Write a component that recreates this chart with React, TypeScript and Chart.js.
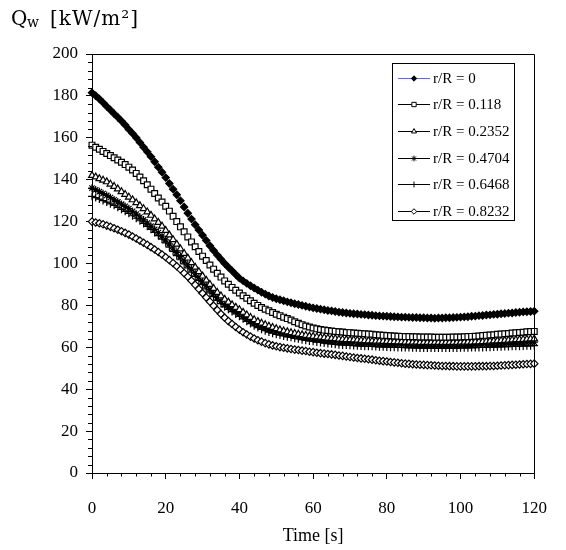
import { useEffect, useRef } from 'react';
import { Chart, registerables } from 'chart.js';
import { drawPoint } from 'chart.js/helpers';

Chart.register(...registerables);

// time axis [s], one sample per second
const times = [
  0, 1, 2, 3, 4, 5, 6, 7, 8, 9,
  10, 11, 12, 13, 14, 15, 16, 17, 18, 19,
  20, 21, 22, 23, 24, 25, 26, 27, 28, 29,
  30, 31, 32, 33, 34, 35, 36, 37, 38, 39,
  40, 41, 42, 43, 44, 45, 46, 47, 48, 49,
  50, 51, 52, 53, 54, 55, 56, 57, 58, 59,
  60, 61, 62, 63, 64, 65, 66, 67, 68, 69,
  70, 71, 72, 73, 74, 75, 76, 77, 78, 79,
  80, 81, 82, 83, 84, 85, 86, 87, 88, 89,
  90, 91, 92, 93, 94, 95, 96, 97, 98, 99,
  100, 101, 102, 103, 104, 105, 106, 107, 108, 109,
  110, 111, 112, 113, 114, 115, 116, 117, 118, 119,
  120,
];

const seriesLabels = ['r/R = 0', 'r/R = 0.118', 'r/R = 0.2352', 'r/R = 0.4704', 'r/R = 0.6468', 'r/R = 0.8232'];

// wall heat flux Qw [kW/m²]
const q0 = [
  181.5, 180.1, 178.5, 176.8, 175, 173.3, 171.5, 169.8, 168, 166.1,
  164, 162.1, 160, 157.8, 155.5, 153.3, 151, 148.6, 146, 143.6,
  141, 138.2, 135.5, 132.8, 130, 127, 124, 121.2, 118.5, 116,
  113.5, 111, 108.5, 106.2, 104, 102, 100, 98.2, 96.5, 94.7,
  93, 91.7, 90.5, 89.4, 88.3, 87.3, 86.3, 85.4, 84.5, 83.8,
  83.2, 82.7, 82.2, 81.7, 81.3, 80.8, 80.4, 80, 79.6, 79.2,
  78.8, 78.5, 78.2, 77.9, 77.6, 77.4, 77.1, 76.8, 76.6, 76.4,
  76.2, 76, 75.9, 75.7, 75.6, 75.4, 75.3, 75.1, 75, 74.9,
  74.8, 74.7, 74.6, 74.5, 74.4, 74.4, 74.3, 74.2, 74.2, 74.1,
  74.1, 74, 74, 73.9, 74, 74, 74.1, 74.1, 74.2, 74.3,
  74.4, 74.5, 74.6, 74.8, 74.9, 75.1, 75.2, 75.4, 75.5, 75.7,
  75.8, 76, 76.1, 76.3, 76.4, 76.6, 76.7, 76.9, 77, 77.1,
  77.2,
];
const q118 = [
  156.5, 155.5, 154.5, 153.5, 152.5, 151.5, 150.5, 149.4, 148.3, 147.2,
  146, 144.6, 143, 141.3, 139.5, 137.6, 135.5, 133.4, 131.3, 129.3,
  127.3, 125, 122.5, 120, 117.5, 115.1, 112.7, 110.3, 108, 105.7,
  103.5, 101.4, 99.3, 97.3, 95.3, 93.5, 91.7, 90.1, 88.6, 87.2,
  85.9, 84.6, 83.4, 82.2, 81, 80, 79, 78.2, 77.4, 76.6,
  75.8, 75.1, 74.4, 73.7, 73, 72.2, 71.5, 70.8, 70.2, 69.7,
  69.2, 68.8, 68.5, 68.2, 68, 67.8, 67.6, 67.4, 67.3, 67.1,
  67, 66.8, 66.7, 66.6, 66.5, 66.3, 66.2, 66, 65.9, 65.7,
  65.6, 65.5, 65.4, 65.3, 65.2, 65.1, 65.1, 65, 65, 64.9,
  64.9, 64.9, 64.9, 64.8, 64.8, 64.8, 64.8, 64.8, 64.9, 64.9,
  64.9, 65, 65.1, 65.2, 65.3, 65.4, 65.6, 65.7, 65.9, 66,
  66.2, 66.3, 66.5, 66.6, 66.8, 66.9, 67.1, 67.2, 67.4, 67.5,
  67.6,
];
const q2352 = [
  142, 141.3, 140.5, 139.8, 139, 137.9, 136.8, 135.6, 134.3, 133,
  131.7, 130.4, 129, 127.6, 126.2, 124.6, 123, 121.3, 119.6, 117.8,
  115.8, 113.6, 111.4, 109.2, 107, 104.8, 102.6, 100.4, 98.2, 96.1,
  94, 92, 90, 88.1, 86.2, 84.5, 82.9, 81.6, 80.3, 79.1,
  78, 76.7, 75.5, 74.3, 73.2, 72.3, 71.5, 70.8, 70.1, 69.5,
  68.9, 68.3, 67.8, 67.4, 67, 66.6, 66.3, 66, 65.7, 65.4,
  65.2, 65, 64.8, 64.6, 64.4, 64.2, 64.1, 63.9, 63.8, 63.7,
  63.6, 63.5, 63.4, 63.3, 63.2, 63.1, 63, 62.9, 62.9, 62.8,
  62.8, 62.7, 62.7, 62.6, 62.6, 62.5, 62.5, 62.4, 62.4, 62.3,
  62.3, 62.3, 62.3, 62.3, 62.3, 62.3, 62.3, 62.3, 62.3, 62.3,
  62.4, 62.4, 62.5, 62.5, 62.6, 62.6, 62.7, 62.8, 62.9, 63,
  63.1, 63.2, 63.3, 63.4, 63.5, 63.6, 63.7, 63.8, 63.9, 64,
  64,
];
const q4704 = [
  136, 135.2, 134.3, 133.4, 132.5, 131.5, 130.4, 129.4, 128.3, 127.3,
  126.2, 124.9, 123.6, 122.2, 120.8, 119.3, 117.8, 116.3, 114.8, 113.1,
  111.3, 109.4, 107.4, 105.3, 103.3, 101.3, 99.4, 97.4, 95.4, 93.4,
  91.4, 89.5, 87.6, 85.7, 83.8, 82, 80.4, 79.3, 78.2, 77.1,
  76.1, 74.9, 73.8, 72.6, 71.5, 70.7, 69.9, 69.2, 68.5, 68,
  67.5, 67.1, 66.7, 66.3, 66, 65.6, 65.3, 64.9, 64.6, 64.3,
  64, 63.7, 63.5, 63.3, 63.1, 62.9, 62.8, 62.7, 62.6, 62.5,
  62.4, 62.3, 62.2, 62.1, 62, 62, 61.9, 61.8, 61.7, 61.7,
  61.6, 61.5, 61.5, 61.4, 61.4, 61.3, 61.3, 61.2, 61.2, 61.1,
  61.1, 61.1, 61.1, 61.1, 61.1, 61.1, 61.1, 61.1, 61.1, 61.1,
  61.2, 61.2, 61.2, 61.2, 61.3, 61.3, 61.4, 61.4, 61.5, 61.6,
  61.7, 61.7, 61.8, 61.9, 62, 62, 62.1, 62.2, 62.3, 62.3,
  62.4,
];
const q6468 = [
  132, 131.4, 130.7, 130, 129.3, 128.5, 127.7, 126.8, 125.8, 124.9,
  123.9, 122.8, 121.6, 120.4, 119.1, 117.7, 116.3, 114.8, 113.3, 111.6,
  109.8, 107.8, 105.8, 103.8, 101.8, 99.8, 97.9, 95.9, 93.9, 91.9,
  89.9, 87.9, 86, 84.2, 82.4, 80.8, 79.3, 78.1, 77, 75.9,
  74.8, 73.6, 72.4, 71.3, 70.2, 69.4, 68.6, 67.9, 67.2, 66.7,
  66.2, 65.8, 65.4, 65, 64.7, 64.3, 64, 63.6, 63.3, 63,
  62.8, 62.5, 62.3, 62, 61.8, 61.6, 61.4, 61.2, 61.1, 61,
  60.9, 60.8, 60.7, 60.6, 60.5, 60.4, 60.4, 60.3, 60.2, 60.2,
  60.1, 60, 60, 59.9, 59.9, 59.8, 59.8, 59.7, 59.7, 59.6,
  59.6, 59.6, 59.6, 59.6, 59.6, 59.6, 59.6, 59.6, 59.6, 59.6,
  59.7, 59.7, 59.7, 59.8, 59.8, 59.9, 59.9, 60, 60, 60.1,
  60.2, 60.2, 60.3, 60.3, 60.4, 60.4, 60.5, 60.6, 60.7, 60.7,
  60.8,
];
const q8232 = [
  120, 119.6, 119.2, 118.7, 118.1, 117.5, 116.8, 116.1, 115.4, 114.6,
  113.8, 112.9, 111.9, 110.9, 109.9, 108.9, 107.8, 106.7, 105.5, 104.3,
  103, 101.6, 100.2, 98.7, 97.1, 95.4, 93.7, 91.8, 89.8, 87.8,
  85.8, 83.8, 81.8, 79.8, 77.8, 75.9, 74.1, 72.5, 71.1, 69.7,
  68.4, 67.2, 66.1, 65.1, 64.2, 63.4, 62.7, 62, 61.4, 60.9,
  60.5, 60.1, 59.8, 59.5, 59.2, 58.9, 58.7, 58.4, 58.2, 57.9,
  57.7, 57.4, 57.2, 57, 56.8, 56.6, 56.4, 56.1, 55.9, 55.6,
  55.4, 55.1, 54.9, 54.7, 54.5, 54.3, 54.1, 53.8, 53.6, 53.4,
  53.2, 53, 52.8, 52.6, 52.4, 52.2, 52.1, 51.9, 51.8, 51.7,
  51.6, 51.5, 51.4, 51.3, 51.2, 51.1, 51.1, 51, 51, 50.9,
  50.9, 50.9, 50.9, 50.9, 50.9, 51, 51, 51, 51.1, 51.1,
  51.2, 51.3, 51.4, 51.5, 51.6, 51.7, 51.8, 51.9, 52, 52.1,
  52.2,
];

const seriesValues = [q0, q118, q2352, q4704, q6468, q8232];

// marker look per series
const markerStyles = [
  { pointStyle: 'rectRot', radius: 3.6, fill: '#000', line: '#6a6ac8' },
  { pointStyle: 'rect', radius: 4.1, fill: '#fff', line: '#000' },
  { pointStyle: 'triangle', radius: 3.9, fill: '#fff', line: '#000' },
  { pointStyle: 'star', radius: 3.8, fill: '#000', line: '#000' },
  { pointStyle: 'cross', radius: 3.9, fill: '#000', line: '#000' },
  { pointStyle: 'rectRot', radius: 3.7, fill: '#fff', line: '#000' },
];

const SERIF = '"Liberation Serif", "Times New Roman", serif';

const framePlugin = {
  id: 'frameAndMinorTicks',
  afterDraw(chart: any) {
    const { ctx, chartArea, scales } = chart;
    const { left, right, top, bottom } = chartArea;
    ctx.save();
    ctx.strokeStyle = '#000';
    ctx.lineWidth = 1;
    ctx.beginPath();
    ctx.moveTo(left, Math.round(top) + 0.5);
    ctx.lineTo(Math.round(right) + 0.5, Math.round(top) + 0.5);
    ctx.lineTo(Math.round(right) + 0.5, bottom);
    for (let v = 0; v <= 120; v += 4) {
      if (v % 20 === 0) continue;
      const px = Math.round(scales.x.getPixelForValue(v)) + 0.5;
      ctx.moveTo(px, bottom);
      ctx.lineTo(px, bottom + 3.5);
    }
    for (let v = 0; v <= 200; v += 4) {
      if (v % 20 === 0) continue;
      const py = Math.round(scales.y.getPixelForValue(v)) + 0.5;
      ctx.moveTo(left, py);
      ctx.lineTo(left - 4, py);
    }
    ctx.stroke();
    ctx.restore();
  },
};

const boxLegendPlugin = {
  id: 'boxLegend',
  afterDraw(chart: any) {
    const { ctx, chartArea } = chart;
    const x0 = Math.round(chartArea.right) - 142;
    const y0 = Math.round(chartArea.top) + 9;
    const w = 122;
    const h = 157;
    ctx.save();
    ctx.fillStyle = '#fff';
    ctx.fillRect(x0, y0, w, h);
    ctx.strokeStyle = '#000';
    ctx.lineWidth = 1;
    ctx.strokeRect(x0 + 0.5, y0 + 0.5, w, h);
    chart.data.datasets.forEach((ds: any, i: number) => {
      const y = Math.round(y0 + 14.5 + i * 26.7) + 0.5;
      ctx.strokeStyle = ds.borderColor;
      ctx.lineWidth = 1;
      ctx.beginPath();
      ctx.moveTo(x0 + 6, y);
      ctx.lineTo(x0 + 38, y);
      ctx.stroke();
      ctx.fillStyle = ds.pointBackgroundColor;
      ctx.strokeStyle = '#000';
      drawPoint(ctx, { pointStyle: ds.pointStyle, radius: ds.pointRadius * 0.75, rotation: 0, borderWidth: 1 } as any, x0 + 22, y);
      ctx.fillStyle = '#000';
      ctx.font = `15px ${SERIF}`;
      ctx.textBaseline = 'middle';
      ctx.textAlign = 'left';
      ctx.fillText(ds.label, x0 + 41, y + 0.5);
    });
    ctx.restore();
  },
};

const yTitlePlugin = {
  id: 'yTitle',
  afterDraw(chart: any) {
    const { ctx } = chart;
    ctx.save();
    ctx.fillStyle = '#000';
    ctx.textBaseline = 'alphabetic';
    ctx.textAlign = 'left';
    ctx.font = '20px "DejaVu Serif", serif';
    ctx.fillText('Q', 11, 25);
    ctx.font = '14px "DejaVu Serif", serif';
    ctx.fillText('w', 27, 27);
    ctx.font = '20px "DejaVu Serif", serif';
    (ctx as any).letterSpacing = '1px';
    ctx.fillText('[kW/m²]', 50, 25);
    ctx.restore();
  },
};

function App() {
  const canvasRef = useRef<HTMLCanvasElement>(null);
  const chartRef = useRef<Chart | null>(null);

  useEffect(() => {
    if (!canvasRef.current) return;
    const ctx = canvasRef.current.getContext('2d');
    if (!ctx) return;
    if (chartRef.current) chartRef.current.destroy();

    Chart.defaults.font.family = SERIF;
    Chart.defaults.color = '#000';

    const datasets = seriesValues.map((vals, i) => ({
      label: seriesLabels[i],
      data: vals.map((v, k) => ({ x: times[k], y: v })),
      borderColor: markerStyles[i].line,
      borderWidth: 1,
      pointStyle: markerStyles[i].pointStyle,
      pointRadius: markerStyles[i].radius,
      pointBackgroundColor: markerStyles[i].fill,
      pointBorderColor: '#000',
      pointBorderWidth: 1.2,
      tension: 0,
      clip: false as const,
    }));

    chartRef.current = new Chart(ctx, {
      type: 'line',
      data: { datasets: datasets as any },
      options: {
        animation: false,
        responsive: true,
        maintainAspectRatio: false,
        layout: { padding: { top: 54, right: 15, left: 0, bottom: 0 } },
        plugins: {
          legend: { display: false },
          tooltip: { enabled: false },
        },
        scales: {
          x: {
            type: 'linear',
            min: 0,
            max: 120,
            ticks: { stepSize: 20, padding: 19, color: '#000', font: { size: 17 }, maxRotation: 0 },
            grid: { drawOnChartArea: false, tickLength: 6, color: '#000' },
            border: { color: '#000', width: 1 },
            title: { display: true, text: 'Time [s]', color: '#000', font: { size: 18 }, padding: { top: 0, bottom: 3 } },
            afterFit: (s: any) => { s.height = 77; },
          },
          y: {
            min: 0,
            max: 200,
            ticks: { stepSize: 20, padding: 8, color: '#000', font: { size: 17 } },
            grid: { drawOnChartArea: false, tickLength: 6, color: '#000' },
            border: { color: '#000', width: 1 },
            afterFit: (s: any) => { s.width = 92; },
          },
        },
      },
      plugins: [framePlugin, boxLegendPlugin, yTitlePlugin],
    });

    return () => {
      if (chartRef.current) {
        chartRef.current.destroy();
        chartRef.current = null;
      }
    };
  }, []);

  return (
    <div style={{ position: 'fixed', left: 0, top: 0, width: 566, height: 550, background: '#fff' }}>
      <canvas ref={canvasRef} style={{ width: '100%', height: '100%' }} />
    </div>
  );
}

export default App;
